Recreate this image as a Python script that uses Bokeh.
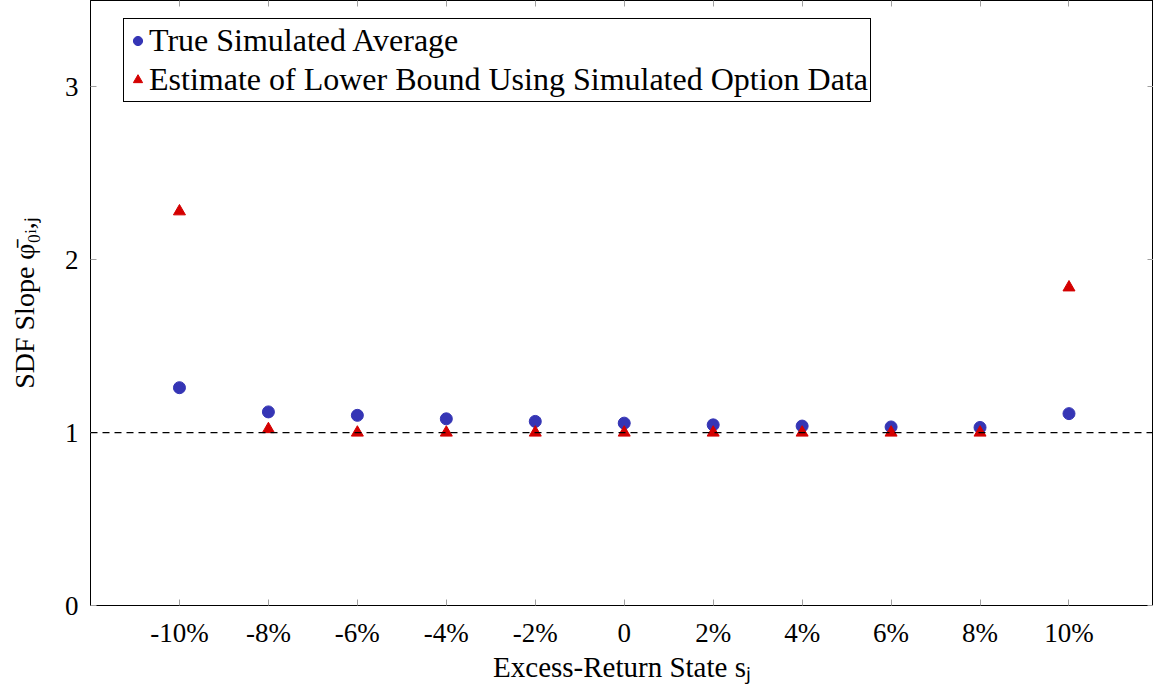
from bokeh.plotting import figure
from bokeh.models import FixedTicker, LinearAxis, Span, Range1d, Legend, LegendItem, ColumnDataSource
from bokeh.embed import file_html
from bokeh.resources import INLINE

# Data
states = [-10, -8, -6, -4, -2, 0, 2, 4, 6, 8, 10]
state_labels = ["-10%", "-8%", "-6%", "-4%", "-2%", "0", "2%", "4%", "6%", "8%", "10%"]
true_avg = [1.26, 1.12, 1.10, 1.08, 1.065, 1.055, 1.045, 1.038, 1.033, 1.03, 1.11]
lower_bound = [2.28, 1.02, 1.0, 1.0, 1.0, 1.0, 1.0, 1.0, 1.0, 1.0, 1.84]
y_ticks = [0, 1, 2, 3]

FONT = "Liberation Serif"

p = figure(width=1153, height=690, output_backend="svg", toolbar_location=None,
           x_range=Range1d(-12, 11.9), y_range=Range1d(0, 3.5),
           min_border_left=90, min_border_right=0, min_border_top=0, min_border_bottom=85)
p.xgrid.visible = False
p.ygrid.visible = False
p.outline_line_color = "black"
p.outline_line_width = 1
p.background_fill_color = "white"
p.border_fill_color = "white"

src = ColumnDataSource(dict(x=states, t=true_avg, l=lower_bound))

p.add_layout(Span(location=1, dimension="width", line_color="black", line_dash="7 5", line_width=1.2))

r1 = p.scatter("x", "t", source=src, marker="circle", size=12, fill_color="#3535b5", line_color="#3535b5")
r2 = p.scatter("x", "l", source=src, marker="triangle", size=12, fill_color="#d40000", line_color="#d40000")

def style_axis(ax):
    ax.major_tick_in = 6
    ax.major_tick_out = 0
    ax.minor_tick_in = 0
    ax.minor_tick_out = 0
    ax.major_tick_line_color = "#a0a0a0"
    ax.axis_line_color = "black"
    ax.major_label_text_font = FONT
    ax.major_label_text_font_size = "27px"
    ax.major_label_text_color = "black"
    ax.axis_label_text_font = FONT
    ax.axis_label_text_font_size = "29px"
    ax.axis_label_text_font_style = "normal"
    ax.axis_label_text_color = "black"

p.xaxis.ticker = FixedTicker(ticks=states)
p.xaxis.major_label_overrides = {s: l for s, l in zip(states, state_labels)}
p.xaxis.axis_label = "Excess-Return State sⱼ"
style_axis(p.xaxis[0])
style_axis(p.yaxis[0])
p.xaxis.major_label_standoff = 12
p.xaxis.axis_label_standoff = 0
p.yaxis.ticker = FixedTicker(ticks=y_ticks)
p.yaxis.axis_label = "SDF Slope φ̄₀ᵢ,ⱼ"
p.yaxis.major_label_standoff = 12
p.yaxis.axis_label_standoff = 22
p.yaxis.axis_label_text_font_size = "28px"

top = LinearAxis(ticker=FixedTicker(ticks=states))
style_axis(top)
top.major_label_overrides = {s: "" for s in states}
top.major_label_standoff = 0
p.add_layout(top, "above")
right = LinearAxis(ticker=FixedTicker(ticks=y_ticks))
style_axis(right)
right.major_label_overrides = {s: "" for s in y_ticks}
right.major_label_standoff = 0
p.add_layout(right, "right")

legend = Legend(items=[LegendItem(label="True Simulated Average", renderers=[r1]),
                       LegendItem(label="Estimate of Lower Bound Using Simulated Option Data", renderers=[r2])],
                location=(33, 503))
legend.label_text_font = FONT
legend.label_text_font_size = "32px"
legend.label_text_color = "black"
legend.glyph_width = 23
legend.glyph_height = 39
legend.label_standoff = 0
legend.label_height = 39
legend.spacing = 0
legend.padding = 2
legend.margin = 0
legend.border_line_color = "black"
legend.border_line_alpha = 1
legend.border_line_width = 1
legend.background_fill_alpha = 1
p.add_layout(legend)

open("out.html", "w").write(file_html(p, INLINE))
